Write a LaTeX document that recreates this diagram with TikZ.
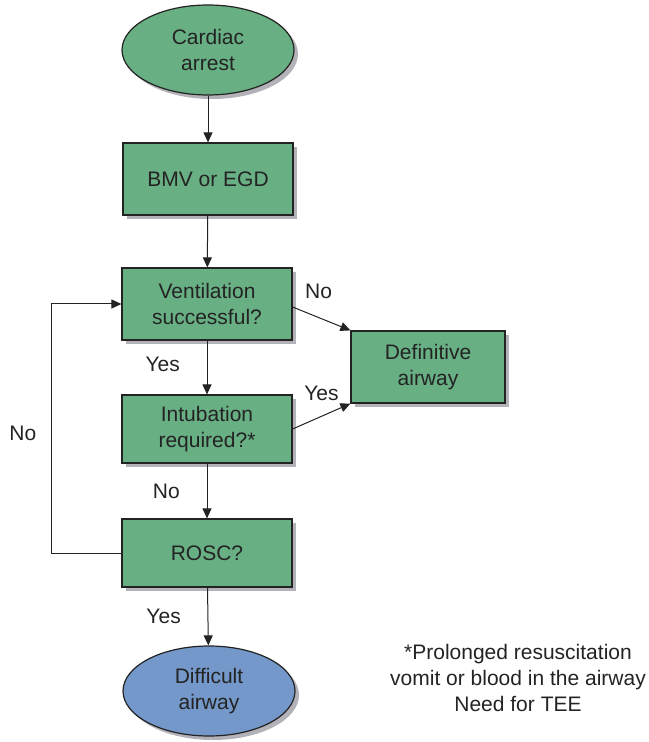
\documentclass[tikz,border=0pt]{standalone}
\usepackage{fontspec}
\setmainfont{Liberation Sans}
\usetikzlibrary{arrows.meta,positioning,shapes.geometric,shadows}
\definecolor{boxGreen}{RGB}{104,175,132}
\definecolor{endBlue}{RGB}{116,152,201}
\definecolor{lineDark}{RGB}{35,35,35}
\definecolor{shadowGrey}{RGB}{178,178,184}
\tikzset{
	fbox/.style={
		draw=lineDark,
		line width=0.6pt,
		fill=boxGreen,
		align=center,
		text=lineDark,
		minimum width=85pt,
		minimum height=36pt,
		font=\fontsize{10.5}{13}\selectfont,
		drop shadow={shadow xshift=2pt, shadow yshift=-2pt, fill=shadowGrey, opacity=1}
	},
	fell/.style={
		fbox, ellipse, minimum width=86pt, minimum height=45pt
	},
	farr/.style={-{Triangle[length=5pt,width=4.5pt]}, line width=0.5pt, lineDark},
	flbl/.style={font=\fontsize{10.5}{13}\selectfont, text=lineDark}
}
\begin{document}
\begin{tikzpicture}[x=0.5pt, y=-0.5pt]
		\useasboundingbox (0,0) rectangle (648,742);
		\node[fell] (ca) at (208,50) {Cardiac\\arrest};
		\node[fbox] (bmv) at (208,179) {BMV or EGD};
		\node[fbox] (vent) at (207,304) {Ventilation\\successful?};
		\node[fbox, minimum width=77pt] (def) at (428,367) {Definitive\\airway};
		\node[fbox, minimum height=34pt] (intub) at (207,429) {Intubation\\required?*};
		\node[fbox, minimum height=34pt] (rosc) at (207,553) {ROSC?};
		\node[fell, fill=endBlue] (diff) at (209,691) {Difficult\\airway};
		\node[flbl, align=center] (note) at (518,678) {*Prolonged resuscitation\\vomit or blood in the airway\\Need for TEE};
		\draw[farr] (ca) -- (bmv);
		\draw[farr] (bmv) -- (vent);
		\draw[farr] (vent) -- node[flbl, left=10pt, pos=0.45] {Yes} (intub);
		\draw[farr] ([yshift=-1.5pt]vent.east) -- node[flbl, above=6pt, pos=0.45] {No} (def.north west);
		\draw[farr] (intub.east) -- node[flbl, above=4pt, pos=0.5] {Yes} (def.south west);
		\draw[farr] (intub) -- node[flbl, left=10pt, pos=0.5] {No} (rosc);
		\draw[farr] (rosc) -- node[flbl, left=10pt, pos=0.5] {Yes} (diff);
		\draw[farr] (rosc.west) -- ++(-70,0) coordinate (back) |- node[flbl, left=4pt, pos=0.24] {No} (vent.west);
	\end{tikzpicture}
\end{document}
